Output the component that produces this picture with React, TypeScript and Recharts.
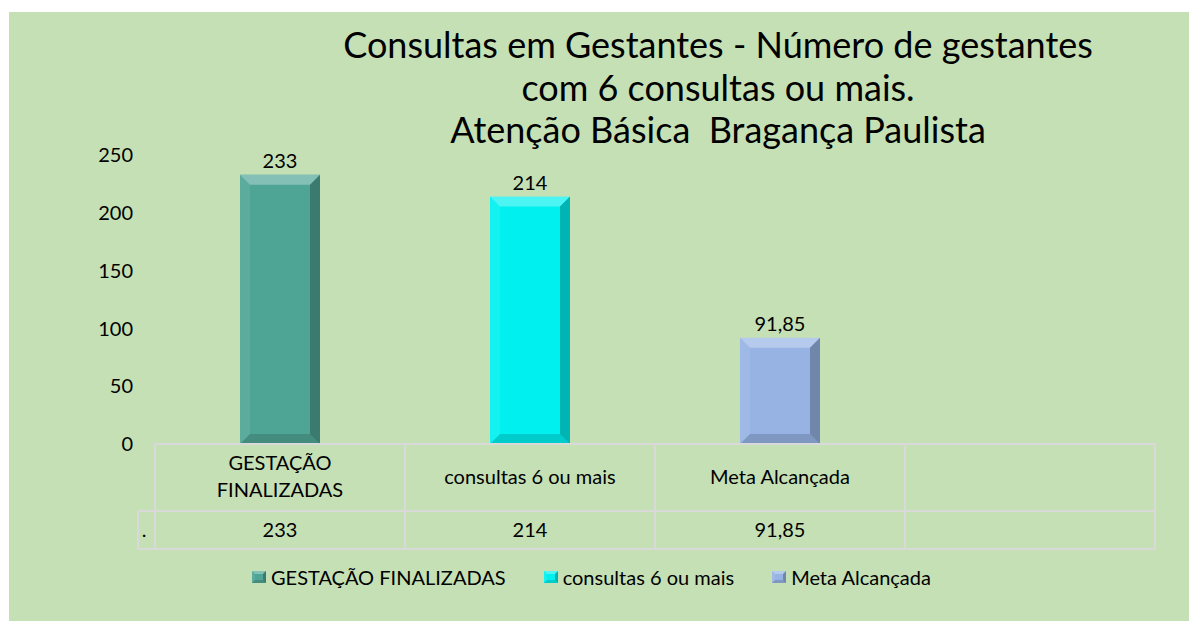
import { BarChart, Bar, XAxis, YAxis, Cell, LabelList } from 'recharts';

const categories = ['GESTAÇÃO FINALIZADAS', 'consultas 6 ou mais', 'Meta Alcançada', ''];
const values = [233, 214, 91.85, null];
const barColors = ['#4fa595', '#00f0f0', '#96b3e4'];
const yTicks = [0, 50, 100, 150, 200, 250];
const titleLines = [
  'Consultas em Gestantes - Número de gestantes',
  'com 6 consultas ou mais.',
  'Atenção Básica  Bragança Paulista',
];
const tableRowLabel = '.';

const W = 1188;
const H = 609;
const FONT = 'Lato, "Open Sans", sans-serif';
const Y_AXIS_W = 146;
const MARGIN = { top: 143, right: 42, bottom: 0, left: 0 };
const PLOT_W = W - Y_AXIS_W - MARGIN.left - MARGIN.right;
const BAND = PLOT_W / categories.length;
const ROW1 = 67;
const ROW2 = 38;
const GRID = '#d9d9d9';
const textStyle = { fontSize: 20, fontFamily: FONT, fill: '#000' };

const data = categories.map((name, i) => ({ name, value: values[i] }));

const fmt = (v: number | null) =>
  v == null ? '' : v.toLocaleString('pt-BR', { maximumFractionDigits: 2 });

// word wrap a table label to the cell width
const ctx = document.createElement('canvas').getContext('2d')!;
const wrap = (s: string, maxW: number) => {
  ctx.font = `20px ${FONT}`;
  const lines: string[] = [];
  let cur = '';
  s.split(' ').filter(Boolean).forEach((w) => {
    const next = cur ? cur + ' ' + w : w;
    if (cur && ctx.measureText(next).width > maxW) {
      lines.push(cur);
      cur = w;
    } else cur = next;
  });
  if (cur) lines.push(cur);
  return lines;
};

// bar with a bevelled edge, like the office "bevel" effect
const BevelBar = (props: any) => {
  const { x, y, width, height, fill } = props;
  if (!height || height <= 0) return null;
  const b = Math.min(10, width / 4, height / 4);
  return (
    <g>
      <rect x={x} y={y} width={width} height={height} fill={fill} />
      <polygon
        points={`${x},${y} ${x + width},${y} ${x + width - b},${y + b} ${x + b},${y + b}`}
        fill="#fff"
        opacity={0.3}
      />
      <polygon
        points={`${x},${y} ${x + b},${y + b} ${x + b},${y + height - b} ${x},${y + height}`}
        fill="#fff"
        opacity={0.08}
      />
      <polygon
        points={`${x + width},${y} ${x + width},${y + height} ${x + width - b},${y + height - b} ${x + width - b},${y + b}`}
        fill="#000"
        opacity={0.25}
      />
      <polygon
        points={`${x},${y + height} ${x + width},${y + height} ${x + width - b},${y + height - b} ${x + b},${y + height - b}`}
        fill="#000"
        opacity={0.15}
      />
    </g>
  );
};

// each x tick draws its column of the data table under the plot
const TableTick = (props: any) => {
  const { x, y, payload, index } = props;
  const left = x - BAND / 2;
  const v = values[index];
  const lines = wrap(String(payload.value ?? ''), BAND - 40);
  const lh = 27;
  const cy = y + ROW1 / 2 - 2;
  return (
    <g>
      <rect x={left} y={y} width={BAND} height={ROW1 + ROW2} fill="none" stroke={GRID} strokeWidth={2} />
      <line x1={left} x2={left + BAND} y1={y + ROW1} y2={y + ROW1} stroke={GRID} strokeWidth={2} />
      {lines.map((l, i) => (
        <text
          key={i}
          x={x}
          y={cy + (i - (lines.length - 1) / 2) * lh}
          textAnchor="middle"
          dominantBaseline="central"
          style={textStyle}
        >
          {l}
        </text>
      ))}
      <text x={x} y={y + ROW1 + ROW2 / 2 - 1} textAnchor="middle" dominantBaseline="central" style={textStyle}>
        {fmt(v)}
      </text>
      {index === 0 && (
        <g>
          <rect x={left - 17} y={y + ROW1} width={17} height={ROW2} fill="none" stroke={GRID} strokeWidth={2} />
          <text x={left - 11} y={y + ROW1 + ROW2 / 2 - 1} textAnchor="middle" dominantBaseline="central" style={textStyle}>
            {tableRowLabel}
          </text>
        </g>
      )}
    </g>
  );
};

const LegendSwatch = ({ color }: { color: string }) => (
  <svg width={14} height={12} style={{ marginRight: 5 }}>
    <BevelBar x={0} y={0} width={14} height={12} fill={color} />
  </svg>
);

export default function App() {
  return (
    <div style={{ paddingLeft: 1, paddingTop: 4 }}>
      <div style={{ position: 'relative', width: W, height: H, background: '#c5e0b4', fontFamily: FONT }}>
        <div
          style={{
            position: 'absolute',
            left: 0,
            width: 1418,
            top: 11,
            textAlign: 'center',
            fontSize: 36,
            lineHeight: '42.5px',
            color: '#000',
          }}
        >
          {titleLines.map((t) => (
            <div key={t} style={{ whiteSpace: 'pre' }}>{t}</div>
          ))}
        </div>
        <BarChart width={W} height={H} data={data} margin={MARGIN} barSize={80}>
          <YAxis
            width={Y_AXIS_W}
            domain={[0, 250]}
            ticks={yTicks}
            axisLine={false}
            tickLine={false}
            tickSize={0}
            tickMargin={22}
            tick={textStyle}
          />
          <XAxis
            dataKey="name"
            height={H - MARGIN.top - 289}
            axisLine={false}
            tickLine={false}
            tickSize={0}
            tickMargin={0}
            interval={0}
            tick={<TableTick />}
          />
          <Bar dataKey="value" isAnimationActive={false} shape={<BevelBar />}>
            {data.map((d, i) => (
              <Cell key={d.name + i} fill={barColors[i] ?? 'none'} />
            ))}
            <LabelList
              dataKey="value"
              position="top"
              offset={7}
              formatter={(v: any) => fmt(v)}
              style={textStyle}
            />
          </Bar>
        </BarChart>
        <div
          style={{
            position: 'absolute',
            left: 243,
            top: 553,
            display: 'flex',
            alignItems: 'center',
            fontSize: 20,
            color: '#000',
          }}
        >
          {barColors.map((c, i) => (
            <div key={c} style={{ display: 'flex', alignItems: 'center', marginRight: 38 }}>
              <LegendSwatch color={c} />
              {categories[i]}
            </div>
          ))}
        </div>
      </div>
    </div>
  );
}
